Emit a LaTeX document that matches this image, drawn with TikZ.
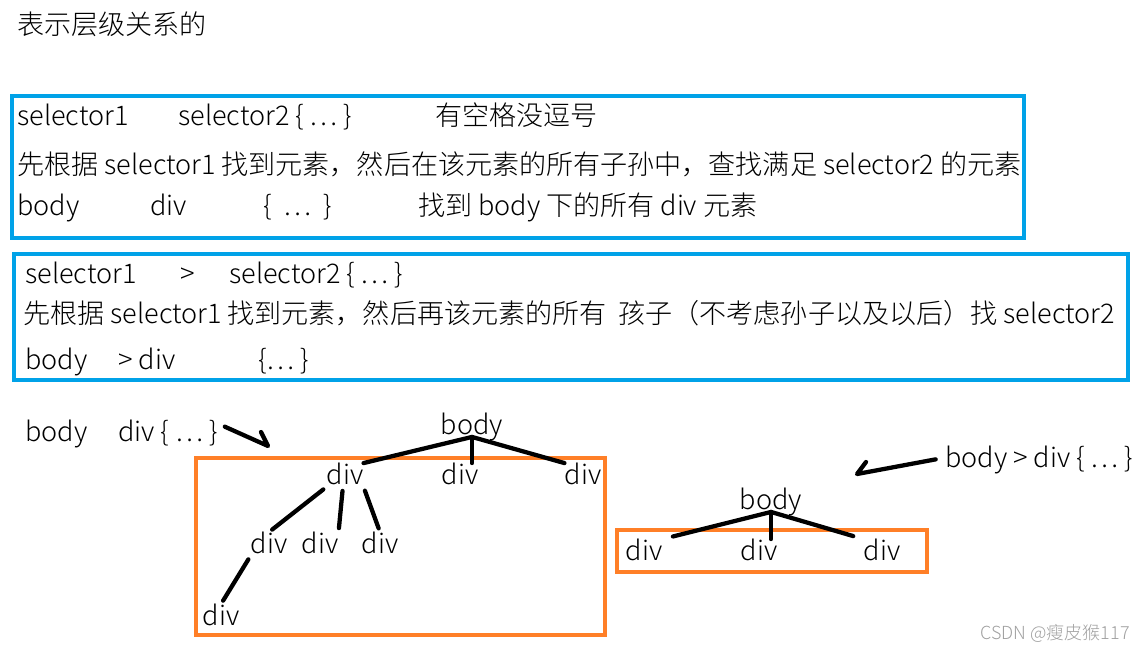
\documentclass[tikz,border=0pt]{standalone}
\usepackage{fontspec}
\setmainfont{Noto Sans CJK SC}[UprightFont={* Light}]
\usetikzlibrary{positioning}
\definecolor{frameblue}{HTML}{00A2E8}
\definecolor{frameorange}{HTML}{FF7F27}
\definecolor{markgray}{HTML}{A0A0A0}
\tikzset{
  txt/.style={anchor=west, inner sep=0pt, text height=16pt, text depth=1.5pt,
    font=\fontsize{20.3}{24}\selectfont},
  leaf/.style={txt, anchor=center},
  bluebox/.style={draw=frameblue, line width=3pt},
  orangebox/.style={draw=frameorange, line width=3pt},
  edge/.style={line width=3.2pt, line cap=round, line join=round},
}

\begin{document}
\begin{tikzpicture}[x=0.75pt, y=-0.75pt]
  \useasboundingbox (0,0) rectangle (1144,651);

  \node[txt] (title) at (17,25) {表示层级关系的};

  % descendant selector
  \draw[bluebox] (12,96) rectangle (1024,238);
  \node[txt] (s1a) at (17,116) {selector1};
  \node[txt] (s1b) at (178,116) {selector2 \{ … \}};
  \node[txt] (s1c) at (435,116) {有空格没逗号};
  \node[txt] (s1d) at (17,165) {先根据 selector1 找到元素，然后在该元素的所有子孙中，查找满足 selector2 的元素};
  \node[txt] (s1e) at (17,206) {body};
  \node[txt] (s1f) at (150,206) {div};
  \node[txt] (s1g) at (263,206) {\{\ \ …\ \ \}};
  \node[txt] (s1h) at (418,206) {找到 body 下的所有 div 元素};

  % child selector
  \draw[bluebox] (14,254) rectangle (1128,380);
  \node[txt] (s2a) at (25,274) {selector1};
  \node[txt] (s2b) at (180,274) {>};
  \node[txt] (s2c) at (229,274) {selector2 \{ … \}};
  \node[txt] (s2d) at (23,314) {先根据 selector1 找到元素，然后再该元素的所有\ \ 孩子（不考虑孙子以及以后）找 selector2};
  \node[txt] (s2e) at (25,360) {body};
  \node[txt] (s2f) at (118,360) {> div};
  \node[txt] (s2g) at (258,360) {\{… \}};

  % descendant tree
  \node[txt] (e1a) at (25,432) {body};
  \node[txt] (e1b) at (118,432) {div \{ … \}};
  \coordinate (tip1) at (268,446);
  \draw[edge] ([xshift=5pt,yshift=4pt]e1b.east) -- (tip1) -- ++(-7,-14);

  \draw[orangebox] (196,458) rectangle (605,635);
  \node[leaf] (b1) at (472,425) {body};
  \node[leaf] (d1) at (345,475) {div};
  \node[leaf] (d2) at (460,475) {div};
  \node[leaf] (d3) at (583,475) {div};
  \node[leaf] (d11) at (269,544) {div};
  \node[leaf] (d12) at (320,544) {div};
  \node[leaf] (d13) at (380,544) {div};
  \node[leaf] (d111) at (221,616) {div};
  \draw[edge] (d1.north east) -- (b1.south) -- (d3.north west);
  \draw[edge] (b1.south) -- (b1.south |- d2.north);
  \draw[edge, shorten <=3pt, shorten >=3pt] (d1.south west) -- (d11.north);
  \draw[edge, shorten <=3pt, shorten >=3pt] (d1.260) -- (d12.north east);
  \draw[edge, shorten <=3pt, shorten >=3pt] (d1.south east) -- (d13.north);
  \draw[edge, shorten <=3pt, shorten >=3pt] (d11.south west) -- (d111.north);

  % child tree
  \node[txt] (e2a) at (945,458) {body > div \{ … \}};
  \coordinate (tip2) at (857,474);
  \draw[edge] ([xshift=-7pt,yshift=-1pt]e2a.west) -- (tip2) -- ++(9,-12);

  \draw[orangebox] (617,530) rectangle (927,572);
  \node[leaf] (b2) at (771,500) {body};
  \node[leaf] (d21) at (644,551) {div};
  \node[leaf] (d22) at (759,551) {div};
  \node[leaf] (d23) at (882,551) {div};
  \draw[edge, shorten >=8pt] (b2.south) -- (d21.north east);
  \draw[edge, shorten >=8pt] (b2.south) -- (d23.north west);
  \draw[edge] (b2.south) -- (b2.south |- d22.north);

  \node[anchor=east, inner sep=0pt, text=markgray, font=\fontsize{13.5}{16}\selectfont]
    (mark) at (1130,633) {CSDN @瘦皮猴117};
\end{tikzpicture}
\end{document}
